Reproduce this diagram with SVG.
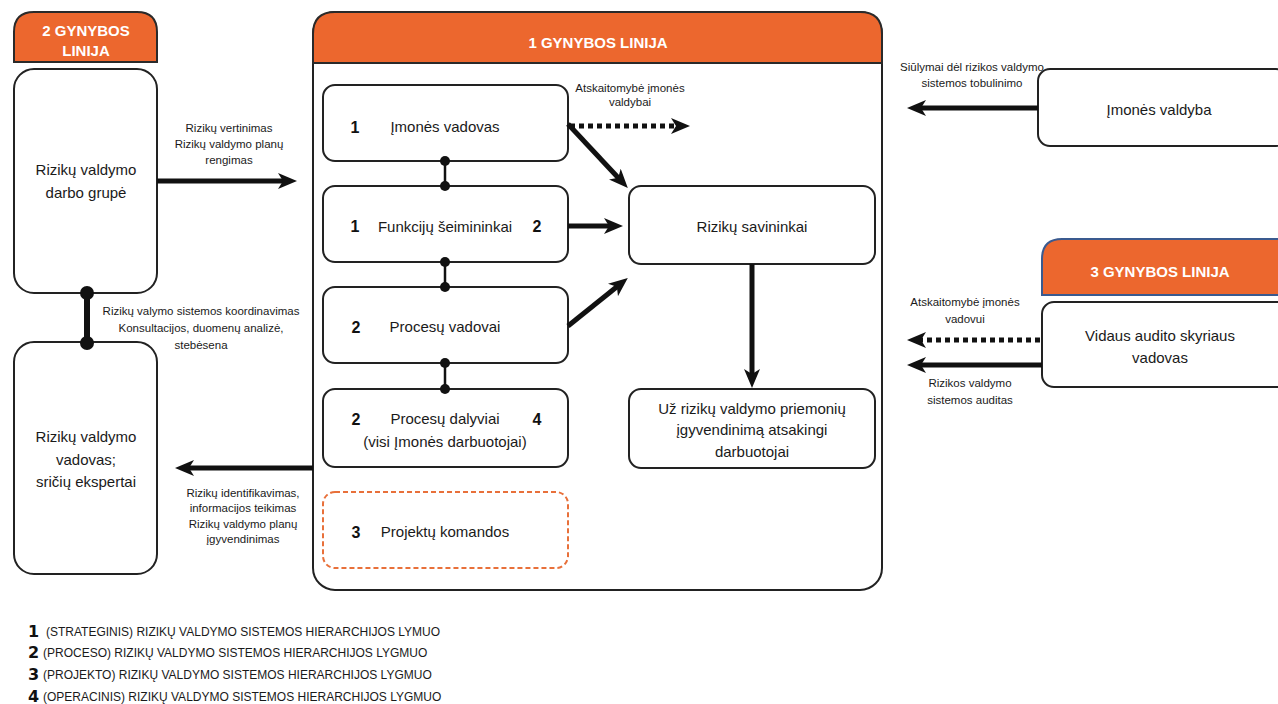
<svg xmlns="http://www.w3.org/2000/svg" width="1278" height="704" viewBox="0 0 1278 704">
<defs>
<style>
.box{fill:#fff;stroke:#222;stroke-width:2}
.hdr{fill:#EC672E;stroke:#2a2a2a;stroke-width:2}
.t{font-family:"Liberation Sans",Arial,sans-serif;fill:#1a1a1a;text-anchor:middle}
.m{font-size:15px}
.s{font-size:11.5px}
.h{font-family:"Liberation Sans",Arial,sans-serif;font-weight:bold;fill:#fff;font-size:15px;text-anchor:middle}
.n{font-family:"Liberation Sans","DejaVu Sans",sans-serif;font-weight:900;font-size:16px;fill:#111;text-anchor:middle}
.lg{font-family:"Liberation Sans",Arial,sans-serif;font-size:12px;fill:#1a1a1a}
.ln{font-family:"DejaVu Sans","Liberation Sans",sans-serif;font-weight:bold;font-size:16px;fill:#111}
.a{stroke:#111;stroke-width:5;fill:none;marker-end:url(#ah)}
.ad{stroke:#111;stroke-width:5;fill:none;stroke-dasharray:5 4;marker-end:url(#ah)}
.c{stroke:#111;stroke-width:2.5}
.d{fill:#111}
</style>
<marker id="ah" markerUnits="userSpaceOnUse" markerWidth="20" markerHeight="16" refX="9" refY="8" orient="auto">
<path d="M0,0 L19,8 L0,16 L5,8 z" fill="#111"/>
</marker>
</defs>

<g id="line2">
<path class="hdr" d="M14,62 V32 Q14,12 34,12 H137 Q157,12 157,32 V62 Z"/>
<text class="h" x="86" y="36">2 GYNYBOS</text>
<text class="h" x="86" y="56">LINIJA</text>
</g>
<g id="darbo-grupe">
<rect class="box" x="14" y="69" width="143" height="224" rx="20"/>
<text class="t m" x="86" y="175">Rizikų valdymo</text>
<text class="t m" x="86" y="198">darbo grupė</text>
</g>
<g id="vadovas-ekspertai">
<rect class="box" x="14" y="342" width="143" height="232" rx="20"/>
<text class="t m" x="86" y="442">Rizikų valdymo</text>
<text class="t m" x="86" y="465">vadovas;</text>
<text class="t m" x="86" y="487">sričių ekspertai</text>
</g>

<g id="line1">
<rect x="313" y="12" width="569" height="578" rx="22" fill="#fff" stroke="#222" stroke-width="2"/>
<path class="hdr" d="M313,63 V34 Q313,12 335,12 H860 Q882,12 882,34 V63 Z"/>
<text class="h" x="598" y="48">1 GYNYBOS LINIJA</text>
</g>

<g id="imones-vadovas">
<rect class="box" x="323" y="85" width="245" height="76" rx="12"/>
<text class="n" x="355" y="133">1</text>
<text class="t m" x="445" y="132">Įmonės vadovas</text>
</g>
<g id="funkciju-seimininkai">
<rect class="box" x="323" y="186" width="245" height="76" rx="12"/>
<text class="n" x="355" y="232">1</text>
<text class="t m" x="445" y="232">Funkcijų šeimininkai</text>
<text class="n" x="537" y="232">2</text>
</g>
<g id="procesu-vadovai">
<rect class="box" x="323" y="287" width="245" height="76" rx="12"/>
<text class="n" x="356" y="333">2</text>
<text class="t m" x="445" y="332">Procesų vadovai</text>
</g>
<g id="procesu-dalyviai">
<rect class="box" x="323" y="389" width="245" height="78" rx="12"/>
<text class="n" x="356" y="425">2</text>
<text class="t m" x="445" y="424">Procesų dalyviai</text>
<text class="n" x="537" y="425">4</text>
<text class="t m" x="445" y="447">(visi Įmonės darbuotojai)</text>
</g>
<g id="projektu-komandos">
<rect x="323" y="492" width="245" height="76" rx="12" fill="#fff" stroke="#E8703A" stroke-width="2" stroke-dasharray="5 3"/>
<text class="n" x="356" y="538">3</text>
<text class="t m" x="445" y="537">Projektų komandos</text>
</g>
<g id="riziku-savininkai">
<rect class="box" x="629" y="186" width="246" height="78" rx="12"/>
<text class="t m" x="752" y="232">Rizikų savininkai</text>
</g>
<g id="atsakingi-darbuotojai">
<rect class="box" x="629" y="389" width="246" height="79" rx="12"/>
<text class="t m" x="752" y="414">Už rizikų valdymo priemonių</text>
<text class="t m" x="752" y="435">įgyvendinimą atsakingi</text>
<text class="t m" x="752" y="457">darbuotojai</text>
</g>

<g id="imones-valdyba">
<rect class="box" x="1038" y="69" width="250" height="77" rx="12"/>
<text class="t m" x="1159" y="115">Įmonės valdyba</text>
</g>
<g id="line3">
<path d="M1042,295 V259 Q1042,239 1062,239 H1290 V295 Z" fill="#EC672E" stroke="#3A5A8F" stroke-width="2"/>
<text class="h" x="1160" y="277">3 GYNYBOS LINIJA</text>
</g>
<g id="vidaus-auditas">
<rect class="box" x="1042" y="302" width="248" height="85" rx="12"/>
<text class="t m" x="1160" y="341">Vidaus audito skyriaus</text>
<text class="t m" x="1160" y="363">vadovas</text>
</g>

<g id="connectors">
<line x1="87" y1="293" x2="87" y2="343" stroke="#111" stroke-width="6"/>
<circle class="d" cx="87" cy="293" r="7"/>
<circle class="d" cx="87" cy="343" r="7"/>
<line class="c" x1="445" y1="161" x2="445" y2="186"/>
<circle class="d" cx="445" cy="161" r="5"/>
<circle class="d" cx="445" cy="186" r="5"/>
<line class="c" x1="445" y1="262" x2="445" y2="287"/>
<circle class="d" cx="445" cy="262" r="5"/>
<circle class="d" cx="445" cy="287" r="5"/>
<line class="c" x1="445" y1="363" x2="445" y2="389"/>
<circle class="d" cx="445" cy="363" r="5"/>
<circle class="d" cx="445" cy="389" r="5"/>

<line class="a" x1="157" y1="181" x2="287" y2="181"/>
<line class="a" x1="313" y1="468" x2="185" y2="468"/>
<line class="a" x1="568" y1="124" x2="621" y2="180.7"/>
<line class="ad" x1="570" y1="126" x2="680" y2="126"/>
<line class="a" x1="568" y1="226" x2="613" y2="226"/>
<line class="a" x1="568" y1="326" x2="620" y2="284.3"/>
<line class="a" x1="752" y1="264" x2="752" y2="378"/>
<line class="a" x1="1038" y1="108" x2="917" y2="108"/>
<line class="ad" x1="1040" y1="340" x2="917" y2="340"/>
<line class="a" x1="1042" y1="365" x2="917" y2="365"/>

<text class="t s" x="229" y="132">Rizikų vertinimas</text>
<text class="t s" x="229" y="148">Rizikų valdymo planų</text>
<text class="t s" x="229" y="164">rengimas</text>
<text class="t s" x="201" y="315">Rizikų valymo sistemos koordinavimas</text>
<text class="t s" x="201" y="332">Konsultacijos, duomenų analizė,</text>
<text class="t s" x="201" y="349">stebėsena</text>
<text class="t s" x="243" y="497">Rizikų identifikavimas,</text>
<text class="t s" x="243" y="512">informacijos teikimas</text>
<text class="t s" x="243" y="528">Rizikų valdymo planų</text>
<text class="t s" x="243" y="543">įgyvendinimas</text>
<text class="t s" x="630" y="92">Atskaitomybė įmonės</text>
<text class="t s" x="630" y="106">valdybai</text>
<text class="t s" x="972" y="71">Siūlymai dėl rizikos valdymo</text>
<text class="t s" x="972" y="87">sistemos tobulinimo</text>
<text class="t s" x="965" y="306">Atskaitomybė įmonės</text>
<text class="t s" x="965" y="323">vadovui</text>
<text class="t s" x="970" y="387">Rizikos valdymo</text>
<text class="t s" x="970" y="404">sistemos auditas</text>
</g>

<g id="legend">
<text class="ln" x="28" y="637">1</text><text class="lg" x="46" y="636">(STRATEGINIS) RIZIKŲ VALDYMO SISTEMOS HIERARCHIJOS LYMUO</text>
<text class="ln" x="28" y="658">2</text><text class="lg" x="43" y="657">(PROCESO) RIZIKŲ VALDYMO SISTEMOS HIERARCHIJOS LYGMUO</text>
<text class="ln" x="28" y="680">3</text><text class="lg" x="43" y="679">(PROJEKTO) RIZIKŲ VALDYMO SISTEMOS HIERARCHIJOS LYGMUO</text>
<text class="ln" x="28" y="702">4</text><text class="lg" x="43" y="701">(OPERACINIS) RIZIKŲ VALDYMO SISTEMOS HIERARCHIJOS LYGMUO</text>
</g>
</svg>
